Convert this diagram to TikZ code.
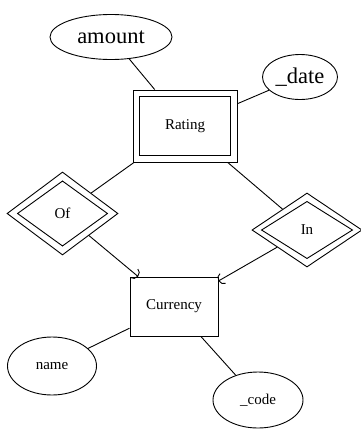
\documentclass[tikz,border=0pt]{standalone}
\usepackage{fontspec}
\setmainfont{Liberation Serif}
\usetikzlibrary{shapes.geometric,arrows.meta}
\tikzset{
  attr/.style={draw, ellipse, line width=0.9pt, inner sep=0pt, font=\fontsize{15}{17}\selectfont},
  bigtext/.style={font=\fontsize{22.5}{26}\selectfont},
  entity/.style={draw, rectangle, line width=0.9pt, inner sep=0pt, font=\fontsize{15}{17}\selectfont},
  rel/.style={draw, diamond, inner sep=0pt, line width=0.9pt, font=\fontsize{15}{17}\selectfont},
  link/.style={line width=0.9pt},
  idlink/.style={link, -{Arc Barb[width=12pt,length=5pt]}}
}
\begin{document}
\begin{tikzpicture}[x=1pt, y=-1pt]
\useasboundingbox (0,0) rectangle (360,429);
\node[attr, bigtext, minimum width=122pt, minimum height=45pt] (amount) at (111,37) {amount};
\node[attr, bigtext, minimum width=75pt, minimum height=45pt] (date) at (300,77) {\_date};
\node[entity, minimum width=104pt, minimum height=72pt] (rating) at (185,126) {Rating};
\node[rel, minimum width=111pt, minimum height=83pt] (of) at (62.5,213.5) {Of};
\node[rel, minimum width=110pt, minimum height=74pt] (in) at (307,230) {In};
\node[entity, minimum width=88pt, minimum height=59pt] (currency) at (174,306.5) {Currency};
\node[attr, minimum width=89pt, minimum height=58pt] (name) at (52,366) {name};
\node[attr, minimum width=90pt, minimum height=56pt] (code) at (258,400) {\_code};
\draw[link] ([xshift=7pt,yshift=-7pt]rating.north west) rectangle ([xshift=-7pt,yshift=7pt]rating.south east);
\draw[link] ([yshift=-9.5pt]of.north) -- ([xshift=-11pt]of.east) -- ([yshift=9.5pt]of.south) -- ([xshift=11pt]of.west) -- cycle;
\draw[link] ([yshift=-9pt]in.north) -- ([xshift=-10pt]in.east) -- ([yshift=9pt]in.south) -- ([xshift=10pt]in.west) -- cycle;
\draw[link] (amount) -- (rating);
\draw[link] (date) -- (rating);
\draw[link] (rating) -- (of);
\draw[link] (rating) -- (in);
\draw[idlink] (of) -- (currency);
\draw[idlink] (in) -- (currency);
\draw[link] (currency) -- (name);
\draw[link] (currency) -- (code);
\end{tikzpicture}
\end{document}
